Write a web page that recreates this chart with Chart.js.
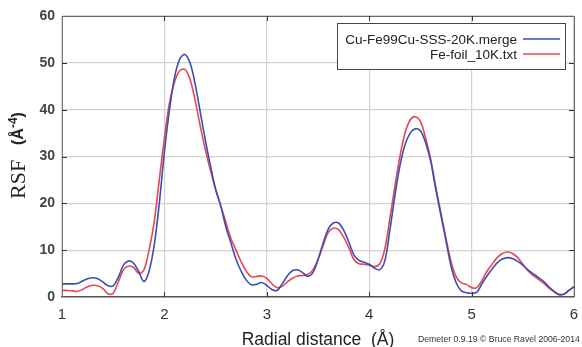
<!DOCTYPE html>
<html>
<head>
<meta charset="utf-8">
<script src="https://cdn.jsdelivr.net/npm/chart.js@4/dist/chart.umd.min.js"></script>
<style>
html,body{margin:0;padding:0;background:#fff;}
#wrap{position:relative;width:582px;height:347px;}
</style>
</head>
<body>
<div id="wrap"><canvas id="c" width="582" height="347"></canvas></div>
<script>
// Radial distance (Å)
const radial = [1.00,1.05,1.10,1.15,1.20,1.25,1.30,1.35,1.40,1.45,1.50,1.55,1.60,1.65,1.70,1.75,1.80,1.85,1.90,1.95,
2.00,2.05,2.10,2.15,2.20,2.25,2.30,2.35,2.40,2.45,2.50,2.55,2.60,2.65,2.70,2.75,2.80,2.85,2.90,2.95,
3.00,3.05,3.10,3.15,3.20,3.25,3.30,3.35,3.40,3.45,3.50,3.55,3.60,3.65,3.70,3.75,3.80,3.85,3.90,3.95,
4.00,4.05,4.10,4.15,4.20,4.25,4.30,4.35,4.40,4.45,4.50,4.55,4.60,4.65,4.70,4.75,4.80,4.85,4.90,4.95,
5.00,5.05,5.10,5.15,5.20,5.25,5.30,5.35,5.40,5.45,5.50,5.55,5.60,5.65,5.70,5.75,5.80,5.85,5.90,5.95,6.00];
// Cu-Fe99Cu-SSS-20K.merge
const cuFeMerge = [2.8,2.8,2.8,2.9,3.4,3.9,4.1,3.9,3.2,2.4,2.4,4.2,6.8,7.7,7.2,5.4,3.3,5.5,11.0,20.0,
31.0,40.0,47.0,50.8,51.8,50.0,45.5,39.5,33.5,28.0,23.0,19.5,15.0,11.5,8.0,5.5,3.6,2.6,2.7,3.1,
2.5,1.6,1.4,2.8,4.5,5.6,5.8,5.2,4.4,5.2,8.0,11.5,14.5,15.8,15.8,14.3,11.8,9.0,7.8,7.4,
7.0,6.2,5.8,7.5,14.0,21.5,28.0,32.5,35.0,35.9,35.5,33.0,29.0,23.0,17.5,12.0,6.5,3.0,1.3,0.9,
0.8,1.0,2.8,4.5,6.0,7.3,8.1,8.4,8.2,7.6,6.8,5.8,5.0,4.2,3.4,2.3,1.3,0.6,0.6,1.4,2.2];
// Fe-foil_10K.txt
const feFoil = [1.4,1.4,1.3,1.2,1.6,2.2,2.5,2.4,1.8,0.7,0.8,3.2,5.8,6.6,6.3,5.0,5.8,10.0,16.0,25.0,
34.0,41.5,46.0,48.3,48.6,46.5,42.0,36.5,31.5,27.0,23.0,19.5,16.0,12.5,10.0,7.5,5.5,4.3,4.4,4.5,
4.0,2.8,2.0,2.3,3.2,4.0,4.5,4.6,4.8,5.8,8.0,11.0,13.8,14.7,14.4,12.8,10.6,8.0,7.1,7.0,
6.8,6.5,7.0,10.0,16.5,23.5,30.0,35.0,37.8,38.5,37.5,34.0,29.5,23.5,18.0,12.5,7.5,4.3,3.0,2.7,
2.0,2.0,3.5,5.5,7.0,8.4,9.3,9.6,9.3,8.4,7.0,5.6,4.6,3.8,3.0,2.0,1.2,0.5,0.6,1.4,2.2];
const seriesNames = ['Cu-Fe99Cu-SSS-20K.merge', 'Fe-foil_10K.txt'];
const xTickValues = [1,2,3,4,5,6];
const yTickValues = [0,10,20,30,40,50,60];

const colors = ['#3c4db3', '#e8474f'];
const toPts = ys => radial.map((x,i)=>({x:x,y:ys[i]}));

const overlay = {
  id:'overlay',
  afterDraw(chart){
    const ctx = chart.ctx, a = chart.chartArea;
    const xs = chart.scales.x, ys = chart.scales.y;
    ctx.save();
    // frame top/right
    ctx.strokeStyle = '#666'; ctx.lineWidth = 1;
    ctx.beginPath();
    ctx.moveTo(a.left, a.top+0.5); ctx.lineTo(a.right+0.5, a.top+0.5); ctx.lineTo(a.right+0.5, a.bottom);
    ctx.stroke();
    // inward ticks
    ctx.strokeStyle = '#333';
    ctx.beginPath();
    xTickValues.slice(1,-1).forEach(v=>{
      const px = Math.round(xs.getPixelForValue(v))+0.5;
      ctx.moveTo(px, a.top); ctx.lineTo(px, a.top+5);
      ctx.moveTo(px, a.bottom); ctx.lineTo(px, a.bottom-5);
    });
    yTickValues.slice(1,-1).forEach(v=>{
      const py = Math.round(ys.getPixelForValue(v))+0.5;
      ctx.moveTo(a.right, py); ctx.lineTo(a.right-5, py);
      ctx.moveTo(a.left, py); ctx.lineTo(a.left+5, py);
    });
    ctx.stroke();
    // legend
    const lx = 337.5, ly = 23.5, lw = 228, lh = 46;
    ctx.fillStyle = '#fff'; ctx.fillRect(lx, ly, lw, lh);
    ctx.strokeStyle = '#444'; ctx.lineWidth = 1; ctx.strokeRect(lx, ly, lw, lh);
    ctx.font = '13.5px "Liberation Sans", Arial, sans-serif';
    ctx.fillStyle = '#222'; ctx.textAlign = 'right'; ctx.textBaseline = 'middle';
    const rows = [40, 55];
    seriesNames.forEach((n,i)=>{
      ctx.fillText(n, 517, rows[i]);
      ctx.strokeStyle = colors[i]; ctx.lineWidth = 1.6;
      ctx.beginPath(); ctx.moveTo(523, rows[i]-1); ctx.lineTo(560, rows[i]-1); ctx.stroke();
    });
    // y title
    ctx.save();
    ctx.translate(19, 199);
    ctx.rotate(-Math.PI/2);
    ctx.fillStyle = '#222'; ctx.textAlign = 'left'; ctx.textBaseline = 'middle';
    ctx.font = '22px "Liberation Serif", "Times New Roman", serif';
    ctx.fillText('RSF', 0, 0);
    let x0 = 54;
    ctx.font = 'bold 16px "Liberation Sans", Arial, sans-serif';
    ctx.fillText('(Å', x0, 0); x0 += ctx.measureText('(Å').width;
    ctx.font = 'bold 12px "Liberation Sans", Arial, sans-serif';
    ctx.fillText('-4', x0, -5); x0 += ctx.measureText('-4').width;
    ctx.font = 'bold 16px "Liberation Sans", Arial, sans-serif';
    ctx.fillText(')', x0, 0);
    ctx.restore();
    // credit
    const credit = 'Demeter 0.9.19 © Bruce Ravel 2006-2014';
    ctx.font = '9px "Liberation Sans", Arial, sans-serif';
    const w = ctx.measureText(credit).width;
    const fs = 9 * 162 / w;
    ctx.font = fs.toFixed(2) + 'px "Liberation Sans", Arial, sans-serif';
    ctx.fillStyle = '#333'; ctx.textAlign = 'left'; ctx.textBaseline = 'middle';
    ctx.fillText(credit, 418, 340);
    ctx.restore();
  }
};

new Chart(document.getElementById('c'), {
  type: 'line',
  data: {
    datasets: [
      {label: seriesNames[0], data: toPts(cuFeMerge), borderColor: colors[0], borderWidth: 1.6, pointRadius: 0, tension: 0.35, fill:false},
      {label: seriesNames[1], data: toPts(feFoil), borderColor: colors[1], borderWidth: 1.6, pointRadius: 0, tension: 0.35, fill:false}
    ]
  },
  options: {
    responsive: false,
    animation: false,
    layout: {padding: {left: 0, right: 0, top: 16, bottom: 0}},
    plugins: {legend: {display: false}, tooltip: {enabled: false}},
    scales: {
      x: {
        type: 'linear', min: 1, max: 6,
        afterBuildTicks: s => { s.ticks = xTickValues.map(v=>({value:v})); },
        afterFit: s => { s.height = 50; s.paddingRight = 8; },
        ticks: {color: '#333', font: {size: 15, family: '"Liberation Sans", Arial, sans-serif'}, padding: 9},
        grid: {color: '#d2d2d2', tickLength: 0, lineWidth: 1.2},
        border: {color: '#555', width: 1.5},
        title: {display: true, text: 'Radial distance  (Å)', color: '#222', font: {size: 17.5, lineHeight: 0.8, family: '"Liberation Sans", Arial, sans-serif'}, padding: {top: 5, bottom: 0}}
      },
      y: {
        min: 0, max: 60,
        afterBuildTicks: s => { s.ticks = yTickValues.map(v=>({value:v})); },
        afterFit: s => { s.width = 62; },
        ticks: {color: '#444', font: {size: 14, weight: 'bold', family: '"Liberation Sans", Arial, sans-serif'}, padding: 7},
        grid: {color: '#d2d2d2', tickLength: 0, lineWidth: 1.2},
        border: {color: '#777', width: 1}
      }
    }
  },
  plugins: [overlay]
});
</script>
</body>
</html>
